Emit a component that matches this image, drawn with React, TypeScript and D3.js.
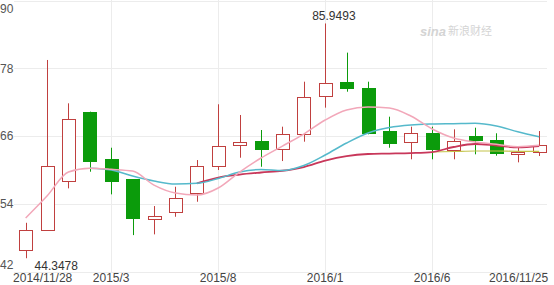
import React from "react";
import * as d3 from "d3";

const months = [
  "2014/11", "2014/12", "2015/1", "2015/2", "2015/3", "2015/4", "2015/5", "2015/6", "2015/7",
  "2015/8", "2015/9", "2015/10", "2015/11", "2015/12", "2016/1", "2016/2", "2016/3", "2016/4",
  "2016/5", "2016/6", "2016/7", "2016/8", "2016/9", "2016/10", "2016/11",
];
const opens = [45.8, 49.34, 58.03, 70.32, 61.88, 58.38, 51.24, 52.48, 55.85, 60.69, 64.29, 65.12, 63.65, 66.36, 73.15, 75.63, 74.46, 66.95, 64.82, 66.49, 63.65, 66.0, 65.3, 62.82, 63.12];
const closes = [49.34, 60.69, 68.97, 61.57, 58.03, 51.41, 51.82, 54.96, 60.69, 64.23, 64.89, 63.65, 66.31, 72.97, 75.46, 74.57, 66.49, 64.82, 66.49, 63.65, 65.17, 65.3, 62.94, 63.23, 64.41];
const highs = [50.63, 79.48, 71.8, 70.32, 63.93, 58.38, 53.6, 57.02, 61.75, 71.63, 69.73, 67.07, 67.66, 75.63, 85.9493, 80.78, 75.63, 69.43, 67.66, 67.66, 67.19, 67.48, 66.49, 64.1, 66.89];
const lows = [44.3478, 49.3, 56.73, 59.68, 55.67, 48.45, 48.58, 51.7, 54.36, 59.98, 62.16, 60.56, 61.57, 65.0, 71.03, 73.86, 66.3, 63.93, 61.88, 61.88, 61.88, 62.76, 62.52, 61.34, 62.46];

// moving-average lines (null = not drawn)
const maPink = [51.47, 55.37, 59.62, 60.28, 60.1, 59.8, 57.3, 55.9, 55.55, 56.79, 59.62, 62.11, 64.23, 66.36, 68.84, 70.62, 71.15, 70.97, 69.55, 67.25, 65.65, 64.94, 64.54, 64.11, 64.36];
const maCyan = [null, null, null, 60.28, 59.98, 58.91, 58.03, 57.5, 57.62, 58.47, 59.62, 60.07, 59.89, 60.78, 62.64, 64.77, 66.54, 67.51, 67.96, 68.13, 68.19, 68.26, 67.78, 66.77, 65.88];
const maRed = [null, null, null, null, null, null, null, null, 57.62, 58.65, 59.18, 59.54, 59.85, 60.51, 61.66, 62.46, 62.82, 62.9, 62.99, 63.17, 64.06, 64.59, 64.32, 64.0, 64.23];
const maOlive = [null, null, null, null, null, null, null, null, null, null, null, null, null, null, null, null, null, null, null, 63.17, 63.26, 63.35, 63.35, 63.29, 63.29];

const yTicks = [42, 54, 66, 78, 90];
const xTickIdx = [0, 4, 9, 14, 19, 24];
const xTickLabels = ["2014/11/28", "2015/3", "2015/8", "2016/1", "2016/6", "2016/11/25"];
const maxLabel = "85.9493";
const minLabel = "44.3478";

const W = 554;
const H = 285;
const FONT = "'Liberation Sans', Arial, sans-serif";
const UP = "#c0403f";
const DOWN = "#0b9b0b";

export default function App() {
  const x = d3.scaleLinear().domain([0, months.length - 1]).range([25.6, 539.2]);
  const y = d3.scaleLinear().domain([42, 90]).range([271.5, 0.6]);
  const gridL = 14;
  const gridR = 547;

  const line = d3
    .line<number | null>()
    .defined((d) => d !== null)
    .x((_, i) => x(i))
    .y((d) => y(d as number))
    .curve(d3.curveMonotoneX);

  const px = (v: number) => Math.round(v) + 0.5;
  const bodyW = 13;

  const maxIdx = highs.indexOf(d3.max(highs) as number);
  const minIdx = lows.indexOf(d3.min(lows) as number);

  return (
    <svg width={W} height={H} style={{ position: "absolute", left: 0, top: 0, background: "#fff" }} fontFamily={FONT}>
      {/* horizontal grid */}
      {yTicks.map((t) => (
        <line key={"h" + t} x1={gridL} x2={gridR} y1={px(y(t)) - 0} y2={px(y(t))} stroke="#ececec" strokeWidth={1} />
      ))}
      {/* vertical grid */}
      {xTickIdx.slice(1, -1).map((i) => (
        <line key={"v" + i} x1={px(x(i))} x2={px(x(i))} y1={0} y2={px(y(42))} stroke="#ececec" strokeWidth={1} />
      ))}

      {/* watermark */}
      <g fill="#d4d4d4">
        <text x={420} y={36} fontSize={13} fontWeight="bold" fontStyle="italic">sina</text>
        <text x={448} y={35} fontSize={11} fontFamily="'Noto Sans CJK SC', sans-serif">新浪财经</text>
      </g>

      {/* y labels */}
      {yTicks.map((t, k) => {
        const yy = y(t);
        let dy = 4.3;
        if (k === 0) dy = -2.3;
        if (k === yTicks.length - 1) dy = 12;
        return (
          <text key={"yl" + t} x={0} y={yy + dy} fontSize={12} fill="#555">
            {t}
          </text>
        );
      })}

      {/* candles */}
      {months.map((m, i) => {
        const o = opens[i];
        const c = closes[i];
        const up = c >= o;
        const cx = px(x(i));
        const top = y(Math.max(o, c));
        const bot = y(Math.min(o, c));
        const col = up ? UP : DOWN;
        const rx = Math.round(x(i) - bodyW / 2) + 0.5;
        const h = Math.max(1, Math.round(bot - top));
        return (
          <g key={m}>
            <line x1={cx} x2={cx} y1={y(highs[i])} y2={y(lows[i])} stroke={col} strokeWidth={1} />
            <rect
              x={rx}
              y={Math.round(top) + 0.5}
              width={bodyW}
              height={h}
              fill={up ? "#fff" : DOWN}
              stroke={col}
              strokeWidth={1}
            />
          </g>
        );
      })}

      {/* MA lines */}
      <path d={line(maOlive) || ""} fill="none" stroke="#c4c44a" strokeWidth={1.2} />
      <path d={line(maRed) || ""} fill="none" stroke="#c8375a" strokeWidth={1.8} />
      <path d={line(maCyan) || ""} fill="none" stroke="#55b9cb" strokeWidth={1.5} />
      <path d={line(maPink) || ""} fill="none" stroke="#f2a7b9" strokeWidth={1.5} />

      {/* max / min annotations */}
      <text x={x(maxIdx) - 13} y={y(highs[maxIdx]) - 3.5} fontSize={12} fill="#333">
        {maxLabel}
      </text>
      <text x={x(minIdx) + 9} y={y(lows[minIdx]) + 12} fontSize={12} fill="#333">
        {minLabel}
      </text>

      {/* x labels */}
      {xTickIdx.map((i, k) => {
        let anchor: "start" | "middle" | "end" = "middle";
        let xx = x(i);
        if (k === 0) {
          anchor = "start";
          xx = x(i) - 12.5;
        } else if (k === xTickIdx.length - 1) {
          anchor = "end";
          xx = x(i) + 9;
        }
        return (
          <text key={"xl" + i} x={xx} y={282} fontSize={12} fill="#444" textAnchor={anchor}>
            {xTickLabels[k]}
          </text>
        );
      })}
    </svg>
  );
}
